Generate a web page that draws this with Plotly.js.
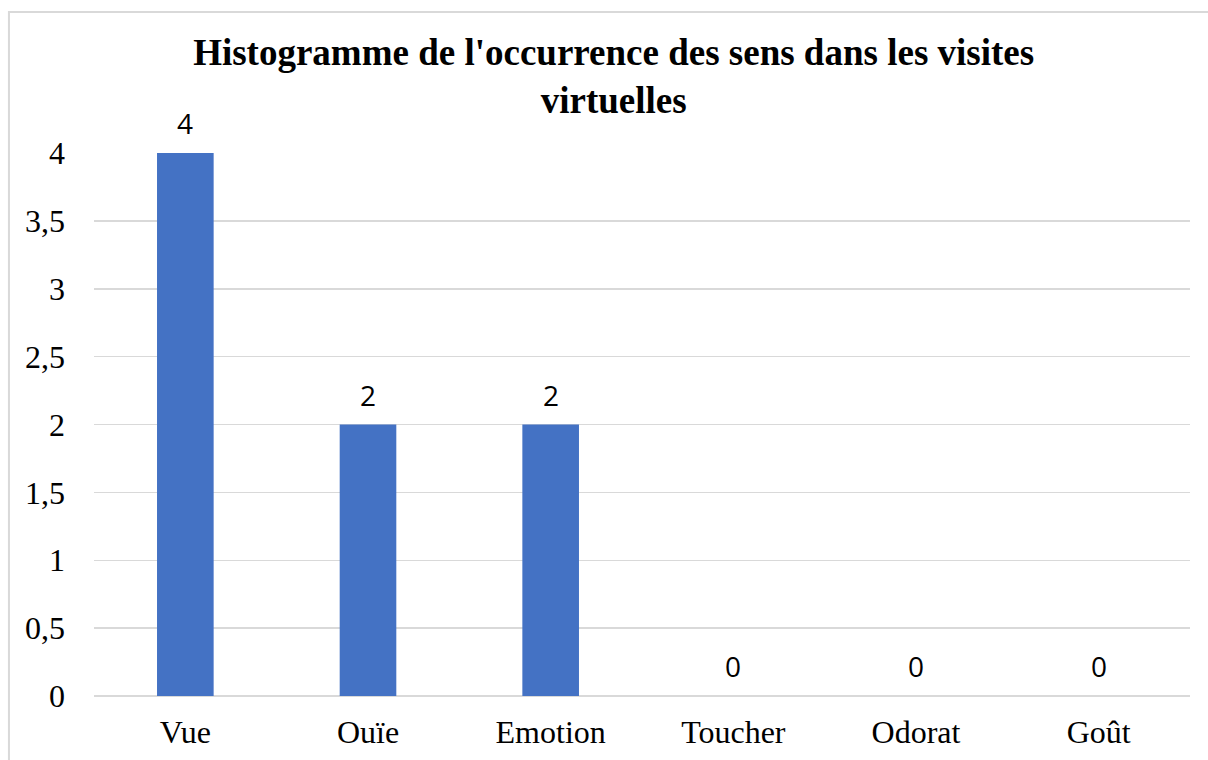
<!DOCTYPE html>
<html>
<head>
<meta charset="utf-8">
<script src="https://cdn.plot.ly/plotly-3.0.1.min.js"></script>
<style>html,body{margin:0;padding:0;background:#fff;}#chart{width:1208px;height:760px;}</style>
</head>
<body>
<div id="chart"></div>
<script>
const categories = ["Vue", "Ouïe", "Emotion", "Toucher", "Odorat", "Goût"];
const values = [4, 2, 2, 0, 0, 0];
const yTickVals = [0, 0.5, 1, 1.5, 2, 2.5, 3, 3.5, 4];
const yTickText = ["0", "0,5", "1", "1,5", "2", "2,5", "3", "3,5", "4"];
const titleText = "Histogramme de l'occurrence des sens dans les visites<br>virtuelles";

const trace = {
  type: "bar",
  x: categories,
  y: values,
  marker: {color: "#4472c4"},
  hoverinfo: "x+y"
};

const annotations = categories.map((c, i) => ({
  x: c, y: values[i], xref: "x", yref: "y",
  text: String(values[i]),
  showarrow: false,
  yshift: 30,
  font: {family: "Open Sans, Liberation Sans, sans-serif", size: 28, color: "#000"}
}));

const layout = {
  width: 1208, height: 760,
  margin: {l: 94, r: 18, t: 153, b: 64},
  paper_bgcolor: "#fff", plot_bgcolor: "#fff",
  showlegend: false,
  bargap: 0.69,
  title: {
    text: titleText,
    font: {family: "Liberation Serif, Times New Roman, serif", size: 37, color: "#000", weight: "bold"},
    x: 0.508, xref: "container", xanchor: "center",
    y: 0.914, yref: "container", yanchor: "middle"
  },
  xaxis: {
    type: "category",
    showgrid: false, zeroline: false, showline: false,
    ticks: "",
    tickfont: {family: "Liberation Serif, Times New Roman, serif", size: 32, color: "#000"},
    ticklabelstandoff: 14
  },
  yaxis: {
    range: [0, 4],
    tickvals: yTickVals, ticktext: yTickText,
    showgrid: true, gridcolor: "#d9d9d9", gridwidth: 1.5,
    zeroline: true, zerolinecolor: "#d9d9d9", zerolinewidth: 1.5,
    showline: false, ticks: "",
    tickfont: {family: "Liberation Serif, Times New Roman, serif", size: 32, color: "#000"},
    ticklabelstandoff: 28
  },
  annotations: annotations,
  shapes: [{
    type: "rect", xref: "paper", yref: "paper",
    x0: -0.0776, x1: 1.2, y0: -0.3, y1: 1.2597,
    line: {color: "#d9d9d9", width: 2}, fillcolor: "rgba(0,0,0,0)", layer: "below"
  }]
};

Plotly.newPlot("chart", [trace], layout, {displayModeBar: false, staticPlot: true});
</script>
</body>
</html>
